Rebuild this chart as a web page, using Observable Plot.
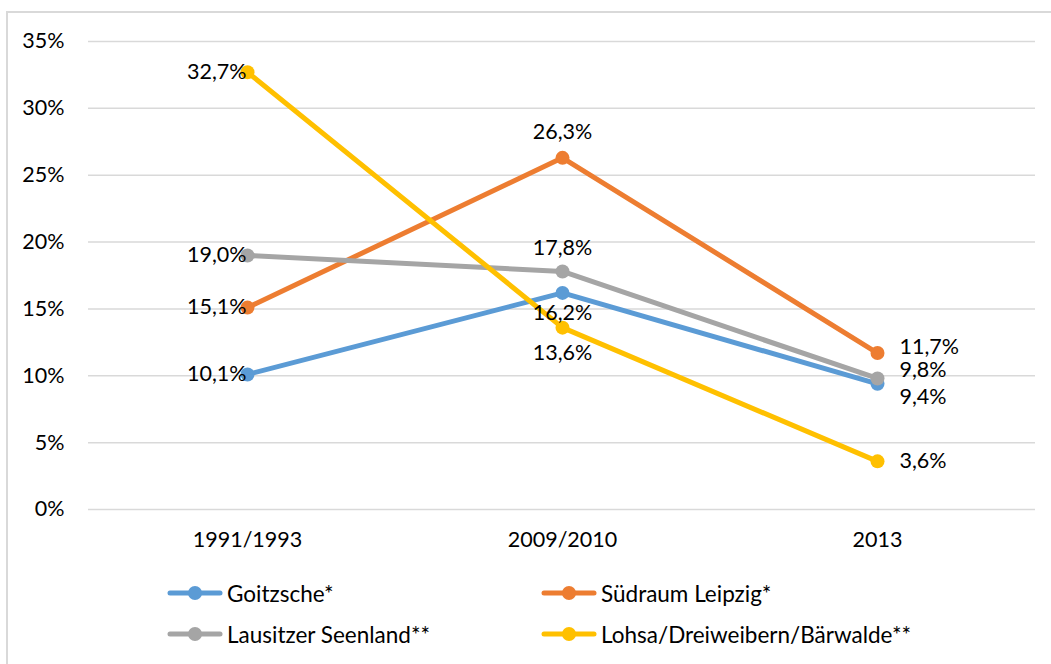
<!DOCTYPE html>
<html><head><meta charset="utf-8">
<script src="https://cdn.jsdelivr.net/npm/d3@7"></script>
<script src="https://cdn.jsdelivr.net/npm/@observablehq/plot@0.6"></script>
<style>
html,body{margin:0;padding:0;width:1051px;height:664px;overflow:hidden;background:#fff;font-family:Lato,sans-serif;}
#frame{position:absolute;left:6px;top:11px;width:1200px;height:800px;border-left:2px solid #d9d9d9;border-top:2px solid #d9d9d9;}
#chart{position:absolute;left:0;top:0;}
.item{position:absolute;display:flex;align-items:center;font-size:22.5px;color:#000;white-space:nowrap;}
.item svg{margin-right:3px;}
</style></head>
<body>
<div id="frame"></div>
<div id="chart"></div>
<div id="legend"></div>
<script>
const categories = ["1991/1993", "2009/2010", "2013"];
const seriesNames = ["Goitzsche*", "Südraum Leipzig*", "Lausitzer Seenland**", "Lohsa/Dreiweibern/Bärwalde**"];
const goitzsche = [10.1, 16.2, 9.4];
const suedraumLeipzig = [15.1, 26.3, 11.7];
const lausitzerSeenland = [19.0, 17.8, 9.8];
const lohsa = [32.7, 13.6, 3.6];
const yTicks = [0, 5, 10, 15, 20, 25, 30, 35];
const colors = ["#5b9bd5", "#ed7d31", "#a5a5a5", "#ffc000"];

const seriesValues = [goitzsche, suedraumLeipzig, lausitzerSeenland, lohsa];
const rows = [];
seriesNames.forEach((s, i) => categories.forEach((c, j) => rows.push({series: s, si: i, cat: c, ci: j, value: seriesValues[i][j]})));

// label placement (layout, per series index / category index)
function place(d) {
  if (d.ci === 0) return {anchor: "end", dx: -1, dy: 0};
  if (d.ci === 1) return {anchor: "middle", dx: 0, dy: [20, -26, -23, 25][d.si]};
  return {anchor: "start", dx: 22, dy: [13, -6, -8, 0][d.si]};
}
rows.forEach(d => { const p = place(d); d.pkey = p.anchor + "|" + p.dx + "|" + p.dy; d.p = p; });
const fmt = v => v.toFixed(1).replace(".", ",") + "%";

const marks = [
  Plot.gridY(yTicks, {stroke: "#d9d9d9", strokeOpacity: 1, strokeWidth: 1.5}),
  Plot.axisY({ticks: yTicks, tickSize: 0, tickPadding: 24, tickFormat: d => d + "%", label: null}),
  Plot.axisX({tickSize: 0, tickPadding: 22, label: null})
];
seriesNames.forEach(s => {
  const sub = rows.filter(d => d.series === s);
  marks.push(Plot.line(sub, {x: "cat", y: "value", stroke: "series", strokeWidth: 5}));
  marks.push(Plot.dot(sub, {x: "cat", y: "value", fill: "series", r: 7}));
});
const keys = [...new Set(rows.map(d => d.pkey))];
keys.forEach(k => {
  const sub = rows.filter(d => d.pkey === k);
  const p = sub[0].p;
  marks.push(Plot.text(sub, {x: "cat", y: "value", text: d => fmt(d.value), textAnchor: p.anchor, dx: p.dx, dy: p.dy, fill: "#000"}));
});

const chart = Plot.plot({
  width: 1051, height: 560,
  marginLeft: 88, marginRight: 16, marginTop: 41, marginBottom: 51,
  x: {type: "point", domain: categories, padding: 0.5},
  y: {domain: [0, 35]},
  color: {domain: seriesNames, range: colors},
  style: {fontFamily: "Lato, sans-serif", fontSize: "21.5px", color: "#000", background: "transparent", overflow: "visible"},
  marks
});
document.getElementById("chart").appendChild(chart);

// legend
const legendPos = [[167, 593], [541, 593], [167, 634], [541, 634]];
const legend = document.getElementById("legend");
seriesNames.forEach((s, i) => {
  const div = document.createElement("div");
  div.className = "item";
  div.style.left = legendPos[i][0] + "px";
  div.style.top = (legendPos[i][1] - 15) + "px";
  div.style.height = "30px";
  div.innerHTML = `<svg width="57" height="16"><line x1="3" y1="8" x2="53" y2="8" stroke="${colors[i]}" stroke-width="5" stroke-linecap="round"/><circle cx="28" cy="8" r="7" fill="${colors[i]}"/></svg><span>${s}</span>`;
  legend.appendChild(div);
});
</script>
</body></html>
